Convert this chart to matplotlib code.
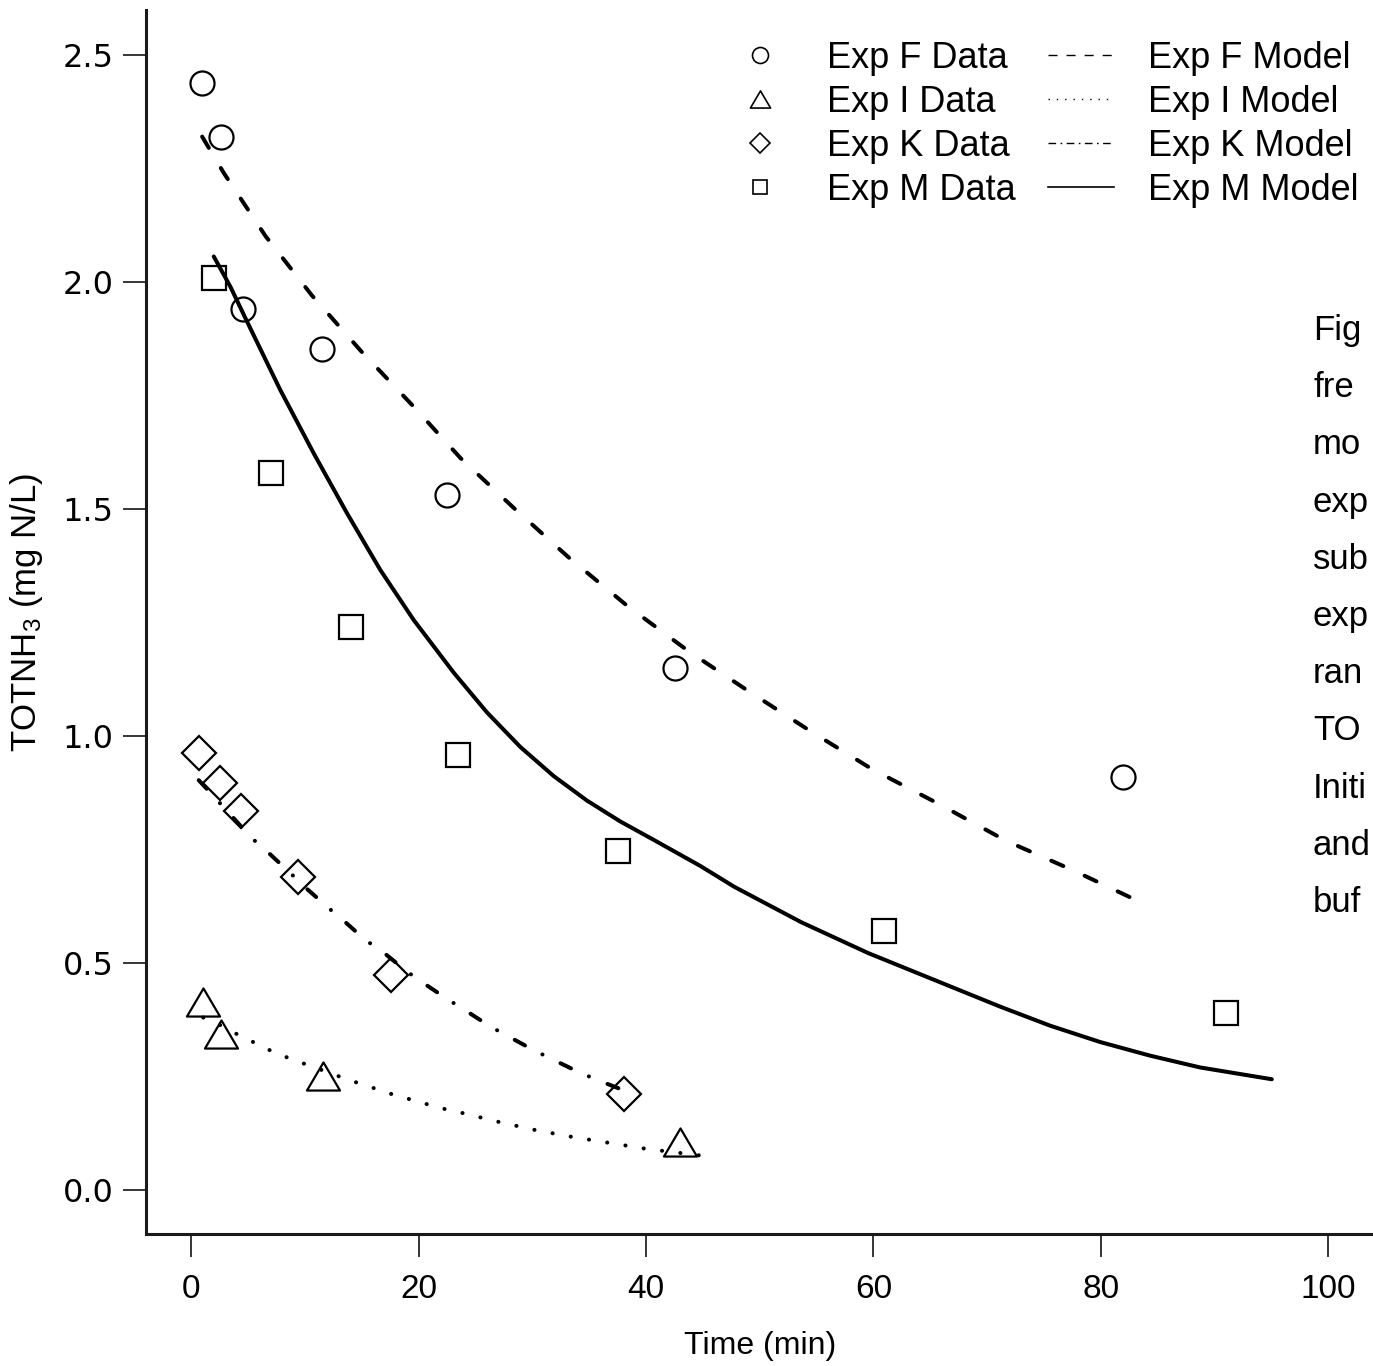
import matplotlib
matplotlib.use("Agg")
import matplotlib.pyplot as plt
from matplotlib.lines import Line2D
from matplotlib.path import Path
from matplotlib.markers import MarkerStyle

plt.rcParams['lines.scale_dashes'] = False
plt.rcParams['mathtext.fontset'] = 'custom'
plt.rcParams['mathtext.rm'] = 'Liberation Sans'
plt.rcParams['mathtext.it'] = 'Liberation Sans:italic'
plt.rcParams['font.family'] = ['Liberation Sans', 'DejaVu Sans']

# ---------------- data ----------------
expF_t = [0.97, 2.63, 4.55, 11.5, 22.5, 42.5, 82.0]
expF_c = [2.44, 2.32, 1.941, 1.852, 1.531, 1.150, 0.910]
expI_t = [1.03, 2.64, 11.6, 43.0]
expI_c = [0.415, 0.343, 0.252, 0.105]
expK_t = [0.70, 2.55, 4.37, 9.35, 17.56, 38.02]
expK_c = [0.962, 0.897, 0.835, 0.690, 0.473, 0.211]
expM_t = [2.0, 7.01, 14.05, 23.48, 37.55, 60.95, 91.03]
expM_c = [2.01, 1.580, 1.241, 0.958, 0.747, 0.570, 0.390]

modF_t = [0.94, 2.84, 6.51, 10.6, 14.9, 19.55, 23.66, 28.35, 33.18, 38.3, 43.8,
          48.9, 54.4, 59.9, 65.8, 71.7, 77.6, 84.1]
modF_c = [2.321, 2.241, 2.102, 1.971, 1.849, 1.726, 1.613, 1.503, 1.394, 1.288, 1.186,
          1.101, 1.012, 0.927, 0.850, 0.769, 0.704, 0.627]
modI_t = [1.03, 2.55, 3.96, 5.43, 6.89, 8.42, 9.94, 11.50, 13.02, 14.51, 16.10, 17.65,
          19.20, 20.73, 22.34, 23.95, 27.03, 30.26, 33.48, 36.70, 39.93, 43.16, 44.77]
modI_c = [0.380, 0.363, 0.344, 0.326, 0.308, 0.292, 0.278, 0.264, 0.250, 0.237, 0.224, 0.211,
          0.200, 0.189, 0.178, 0.169, 0.150, 0.132, 0.117, 0.104, 0.091, 0.081, 0.076]
modK_t = [0.64, 2.26, 3.72, 5.19, 6.95, 8.71, 10.18, 11.94, 13.54, 15.30, 17.06, 18.97,
          20.58, 22.49, 24.39, 26.30, 28.21, 30.11, 32.16, 34.21, 36.26, 38.90]
modK_c = [0.903, 0.859, 0.819, 0.778, 0.739, 0.698, 0.663, 0.624, 0.590, 0.551, 0.520, 0.481,
          0.453, 0.421, 0.391, 0.360, 0.334, 0.308, 0.283, 0.258, 0.237, 0.211]
modM_t = [1.96, 3.43, 4.90, 7.83, 10.76, 13.69, 16.62, 19.55, 23.07, 26.01, 28.94, 31.87,
          34.80, 37.73, 40.63, 44.77, 47.76, 53.65, 59.54, 65.44, 71.15, 75.55, 79.95,
          84.34, 88.74, 95.05]
modM_c = [2.057, 1.990, 1.913, 1.762, 1.623, 1.491, 1.366, 1.256, 1.140, 1.052, 0.976, 0.912,
          0.858, 0.812, 0.772, 0.714, 0.668, 0.590, 0.522, 0.462, 0.404, 0.362, 0.326,
          0.296, 0.270, 0.244]

xticks = [0, 20, 40, 60, 80, 100]
yticks = [0.0, 0.5, 1.0, 1.5, 2.0, 2.5]
ytick_labels = ["0.0", "0.5", "1.0", "1.5", "2.0", "2.5"]

data_labels = ["Exp F Data", "Exp I Data", "Exp K Data", "Exp M Data"]
model_labels = ["Exp F Model", "Exp I Model", "Exp K Model", "Exp M Model"]

# visible fragments of the slide caption at the right edge
side_text = ["Fig", "fre", "mo", "exp", "sub", "exp", "ran", "TO", "Initi", "and", "buf"]

# ---------------- figure ----------------
W, H = 1373, 1366
fig = plt.figure(figsize=(W / 100, H / 100), dpi=100)
ax = fig.add_axes([146 / W, (H - 1234) / H, (1373.5 - 146) / W, (1234 - 10) / H])
ax.set_xlim(-4, 104)
ax.set_ylim(-0.097, 2.6)

tri = Path([(-1, -0.85), (1, -0.85), (0, 0.85), (-1, -0.85)],
           [Path.MOVETO, Path.LINETO, Path.LINETO, Path.CLOSEPOLY])
tri_m = MarkerStyle(tri, joinstyle='miter')
sq_m = MarkerStyle('s', joinstyle='miter')
dia_m = MarkerStyle('D', joinstyle='miter')

mk = dict(ls='none', mfc='none', mec='black', mew=1.6, zorder=3)
ax.plot(expF_t, expF_c, marker='o', ms=17.3, **mk)
ax.plot(expI_t, expI_c, marker=tri_m, ms=23.8, **mk)
ax.plot(expK_t, expK_c, marker=dia_m, ms=17.0, **mk)
ax.plot(expM_t, expM_c, marker=sq_m, ms=17.3, **mk)

lw = 2.9
ax.plot(modF_t, modF_c, color='black', lw=lw, ls=(0, (9.4, 16.9)),
        dash_capstyle='round', solid_capstyle='round')
ax.plot(modI_t, modI_c, color='black', lw=lw, ls=(0, (0.1, 13.2)),
        dash_capstyle='round')
ax.plot(modK_t, modK_c, color='black', lw=lw, ls=(0, (8.4, 14.1, 0.1, 14.4)),
        dash_capstyle='round')
ax.plot(modM_t, modM_c, color='black', lw=lw, ls='-', solid_capstyle='round',
        solid_joinstyle='round')

# axes styling (R bty="l")
for s in ['top', 'right']:
    ax.spines[s].set_visible(False)
for s in ['left', 'bottom']:
    ax.spines[s].set_linewidth(2.2)
    ax.spines[s].set_color('#1a1a1a')

ax.set_xticks(xticks)
ax.set_xticklabels([str(v) for v in xticks], fontsize=24, family='Liberation Sans')
ax.set_yticks(yticks)
ax.set_yticklabels(ytick_labels, fontsize=23, family='DejaVu Sans')
ax.tick_params(axis='both', direction='out', length=16.5, width=1.1, color='black')
ax.tick_params(axis='x', pad=12)
ax.tick_params(axis='y', pad=7)

ax.set_xlabel("Time (min)", fontsize=23)
ax.set_ylabel("TOTNH$_3$ (mg N/L)", fontsize=25)
ax.xaxis.set_label_coords((760 - 146) / (1373.5 - 146), -(1346 - 1234) / (1234 - 10))
ax.yaxis.set_label_coords(-(146 - 26) / (1373.5 - 146), (1234 - 612) / (1234 - 10))
ax.xaxis.label.set_verticalalignment('center')
ax.yaxis.label.set_verticalalignment('center')

# legend
lg_mk = dict(ls='none', mfc='none', mec='black', mew=1.2)
h_data = [Line2D([], [], marker='o', ms=11.5, **lg_mk),
          Line2D([], [], marker=tri_m, ms=14.5, **lg_mk),
          Line2D([], [], marker=dia_m, ms=10.5, **lg_mk),
          Line2D([], [], marker=sq_m, ms=10.5, **lg_mk)]
h_model = [Line2D([], [], color='black', lw=1.0, ls=(0, (6.5, 6.5))),
           Line2D([], [], color='black', lw=1.0, ls=(0, (1.0, 5.0))),
           Line2D([], [], color='black', lw=1.0, ls=(0, (5.5, 3.2, 1.2, 3.2))),
           Line2D([], [], color='black', lw=1.2, ls='-')]
fig.legend(h_data + h_model, data_labels + model_labels, ncol=2,
           loc='upper left', bbox_to_anchor=(727 / W, 1 - 41 / H),
           frameon=False, fontsize=26, borderpad=0, borderaxespad=0,
           handlelength=1.83, handletextpad=0.94, columnspacing=0.9,
           labelspacing=0.245)

# partially visible slide caption on the right
for i, t in enumerate(side_text):
    fig.text(1313 / W, 1 - (340 + i * 57.2) / H, t, fontsize=25,
             family=['Liberation Sans'], va='baseline', ha='left')

fig.savefig("out.png", dpi=100)
